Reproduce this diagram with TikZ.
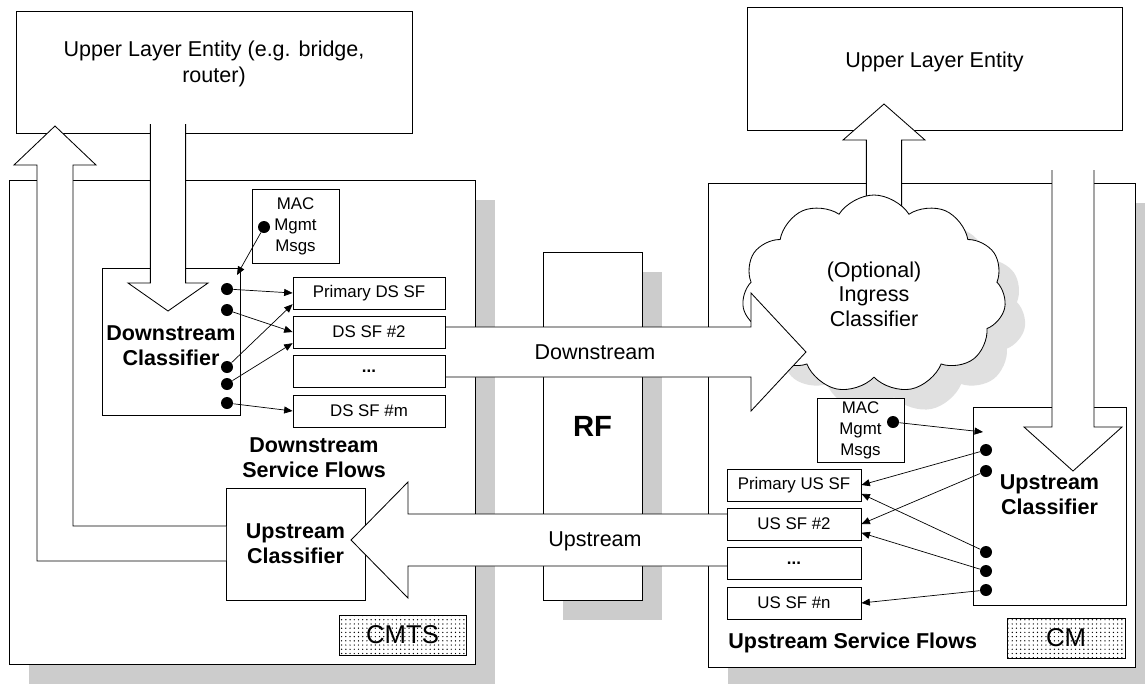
\documentclass[tikz,border=0pt]{standalone}
\usepackage{fontspec}
\setmainfont{Liberation Sans}
\usetikzlibrary{shapes.symbols,shadows,patterns,arrows.meta,positioning}

\begin{document}
\begin{tikzpicture}[
    line width=0.6pt,
    sysbox/.style={draw, fill=white,
                   drop shadow={shadow xshift=0.5cm, shadow yshift=-0.5cm, fill=black!20, opacity=1}},
    ulebox/.style={draw, fill=white},
    clsbox/.style={draw, fill=white, inner sep=1pt, align=center,
                   font=\fontsize{15.3}{18}\selectfont\bfseries},
    clstext/.style={align=center, font=\fontsize{15.3}{18}\selectfont\bfseries},
    bigtext/.style={align=center, font=\fontsize{15.3}{19}\selectfont},
    sfbox/.style={draw, fill=white, minimum height=0.8cm, inner sep=1pt,
                  font=\fontsize{12}{14}\selectfont},
    macbox/.style={draw, fill=white, minimum width=2.175cm, align=center, inner sep=1pt,
                   font=\fontsize{12}{15}\selectfont},
    dot/.style={circle, fill=black, inner sep=0pt, minimum size=0.3cm},
    link/.style={->, >={Stealth[length=6pt, width=5pt, inset=0pt]}, line width=0.5pt},
    blk/.style={draw, fill=white},
    tag/.style={draw, pattern=dots, minimum height=1cm, inner sep=1pt,
                font=\fontsize{18.3}{22}\selectfont},
  ]
  \useasboundingbox (0,0) rectangle (28.625,-17.075);
  \clip (0,0) rectangle (28.625,-17.075);

  % equipment and RF
  \node[sysbox, minimum width=11.65cm, minimum height=12.1cm] (cmts) at (6.05,-10.55) {};
  \node[sysbox, minimum width=10.675cm, minimum height=12.1cm] (cm) at (23.0375,-10.625) {};
  \node[sysbox, minimum width=2.475cm, minimum height=8.7cm,
        font=\fontsize{20.8}{24}\selectfont\bfseries] (rf) at (14.8125,-10.65) {RF};

  \node[ulebox, minimum width=9.9cm, minimum height=3.05cm,
        label={[bigtext, yshift=0.2cm]center:Upper Layer Entity (e.g. bridge,\\router)}] (uleL) at (5.35,-1.8) {};
  \node[ulebox, minimum width=9.375cm, minimum height=3.075cm,
        label={[bigtext, yshift=0.16cm]center:Upper Layer Entity}] (uleR) at (23.3625,-1.7125) {};

  \node[clsbox, minimum width=3.45cm, minimum height=3.675cm,
        label={[clstext, yshift=-0.1cm]center:Downstream\\Classifier}] (dscls) at (4.275,-8.5375) {};
  \node[clsbox, minimum width=3.475cm, minimum height=2.8cm] (uscls) at (7.3875,-13.6) {Upstream\\Classifier};
  \node[clsbox, minimum width=3.825cm, minimum height=4.95cm,
        label={[clstext, yshift=0.28cm]center:Upstream\\Classifier}] (usclsR) at (26.2375,-12.65) {};

  \draw[blk] (21.66,-6.0) -- (21.66,-3.5) -- (21.075,-3.5) -- (22.1,-2.6)
    -- (23.125,-3.5) -- (22.54,-3.5) -- (22.54,-6.0);
  \node[cloud, draw, fill=white, cloud puffs=11, cloud puff arc=115, aspect=1.3,
        minimum width=6.6cm, minimum height=4.95cm, bigtext, font=\fontsize{15.3}{17.4}\selectfont,
        drop shadow={shadow xshift=0.5cm, shadow yshift=-0.5cm, fill=black!12, opacity=1}]
    (ingress) at (21.85,-7.35) {(Optional)\\Ingress\\Classifier};

  \draw[blk] (11.125,-8.175) -- (18.775,-8.175) -- (18.775,-7.325) -- (20.15,-8.8)
    -- (18.775,-10.275) -- (18.775,-9.425) -- (11.125,-9.425);
  \node[bigtext] (dslbl) at (14.875,-8.8) {Downstream};
  \draw[blk] (18.175,-12.85) -- (10.2,-12.85) -- (10.2,-12.05) -- (8.775,-13.5)
    -- (10.2,-14.95) -- (10.2,-14.15) -- (18.175,-14.15);
  \node[bigtext] (uslbl) at (14.875,-13.525) {Upstream};

  \draw[blk] (3.76,-3.1) -- (3.76,-7.075) -- (3.2,-7.075) -- (4.2,-7.775)
    -- (5.2,-7.075) -- (4.64,-7.075) -- (4.64,-3.1);
  \draw[blk] (5.65,-14.025) -- (0.925,-14.025) -- (0.925,-4.125) -- (0.35,-4.125)
    -- (1.375,-3.15) -- (2.4,-4.125) -- (1.825,-4.125) -- (1.825,-13.15) -- (5.65,-13.15);
  \draw[blk] (26.3,-4.25) -- (26.3,-10.675) -- (25.6,-10.675) -- (26.825,-11.775)
    -- (28.05,-10.675) -- (27.35,-10.675) -- (27.35,-4.25);

  % downstream service flows
  \node[sfbox, minimum width=3.8cm] (pds)    at (9.225,-7.325)  {Primary DS SF};
  \node[sfbox, minimum width=3.8cm] (ds2)    at (9.225,-8.3)    {DS SF \#2};
  \node[sfbox, minimum width=3.8cm] (dsdots) at (9.225,-9.2875) {\textbf{...}};
  \node[sfbox, minimum width=3.8cm] (dsm)    at (9.225,-10.275) {DS SF \#m};
  \node[macbox, minimum height=1.85cm] (macL) at (7.3875,-5.65) {MAC\\Mgmt\\Msgs};
  \node[dot] (dmacL) at (6.6,-5.675) {};
  \coordinate (macLend) at (5.925,-6.875);
  \node[dot] (dl1) at (5.675,-7.225) {};
  \node[dot] (dl2) at (5.675,-7.75) {};
  \node[dot] (dl3) at (5.675,-9.175) {};
  \node[dot] (dl4) at (5.675,-9.6) {};
  \node[dot] (dl5) at (5.675,-10.075) {};
  \draw[link] (dmacL) -- (macLend);
  \draw[link] (dl1) -- (pds.west);
  \draw[link] (dl2) -- (ds2.west);
  \draw[link] (dl3) -- ([yshift=-0.28cm]pds.west);
  \draw[link] (dl4) -- ([yshift=-0.28cm]ds2.west);
  \draw[link] (dl5) -- (dsm.west);
  \node[clstext] (dsflows) at (7.85,-11.45) {Downstream\\Service Flows};

  % upstream service flows
  \node[sfbox, minimum width=3.35cm] (pus)    at (19.85,-12.125) {Primary US SF};
  \node[sfbox, minimum width=3.35cm] (us2)    at (19.85,-13.1)   {US SF \#2};
  \node[sfbox, minimum width=3.35cm] (usdots) at (19.85,-14.0875) {\textbf{...}};
  \node[sfbox, minimum width=3.35cm] (usn)    at (19.85,-15.075) {US SF \#n};
  \node[macbox, minimum height=1.6cm] (macR) at (21.5125,-10.75) {MAC\\Mgmt\\Msgs};
  \node[dot] (dmacR) at (22.325,-10.55) {};
  \coordinate (macRend) at (24.575,-10.8);
  \node[dot] (dr1) at (24.65,-11.25) {};
  \node[dot] (dr2) at (24.65,-11.775) {};
  \node[dot] (dr3) at (24.65,-13.8) {};
  \node[dot] (dr4) at (24.65,-14.275) {};
  \node[dot] (dr5) at (24.65,-14.75) {};
  \draw[link] (dmacR) -- (macRend);
  \draw[link] (dr1) -- (pus.east);
  \draw[link] (dr2) -- (us2.east);
  \draw[link] (dr3) -- ([yshift=-0.22cm]pus.east);
  \draw[link] (dr4) -- ([yshift=-0.22cm]us2.east);
  \draw[link] (dr5) -- (usn.east);
  \node[clstext, anchor=west, inner sep=0pt] (usflows) at (18.2,-16.075) {Upstream Service Flows};

  \node[tag, minimum width=3.175cm] (cmtstag) at (10.0625,-15.875) {CMTS};
  \node[tag, minimum width=2.95cm] (cmtag) at (26.65,-15.95) {CM};
\end{tikzpicture}
\end{document}
